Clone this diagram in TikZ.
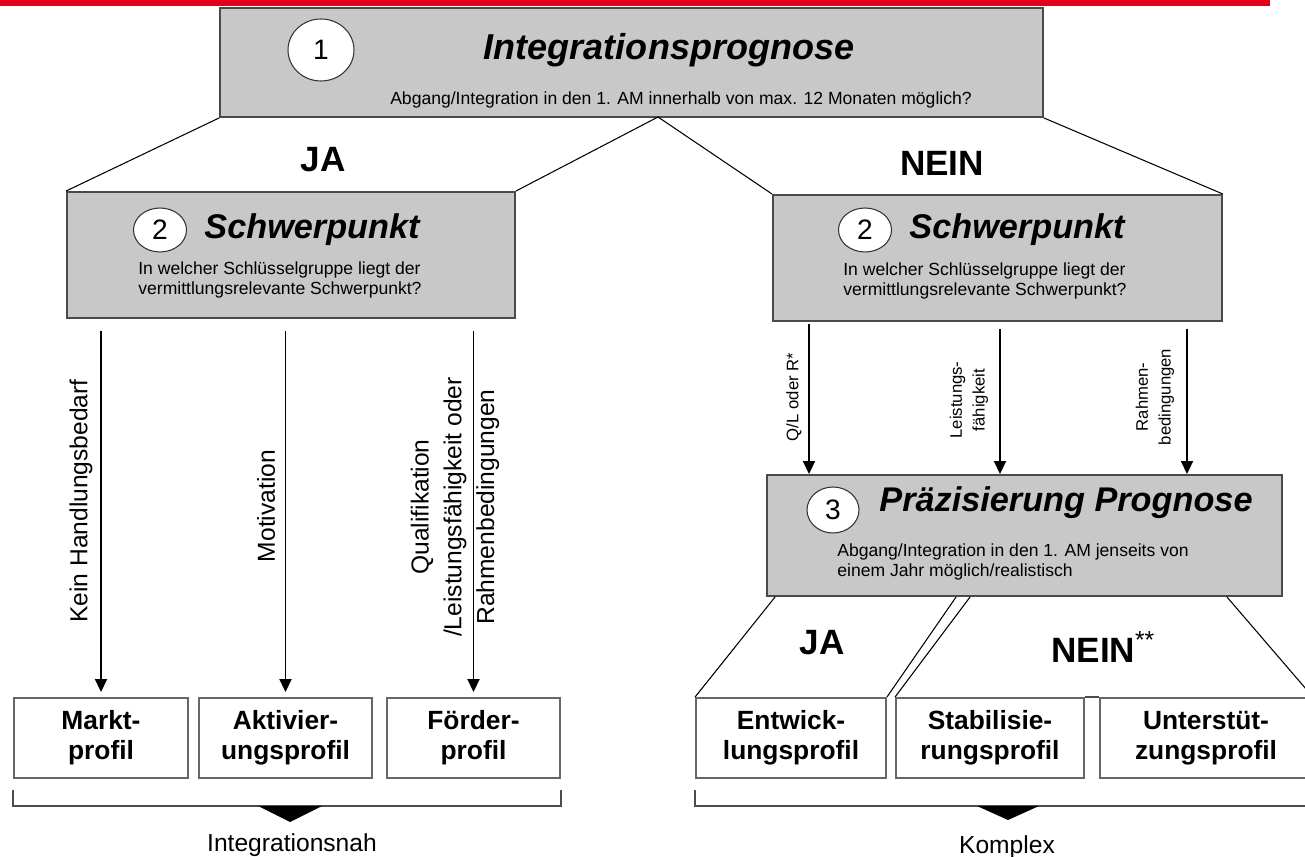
\documentclass[tikz,border=0pt]{standalone}
\usepackage{fontspec}
\setmainfont{Liberation Sans}
\usetikzlibrary{arrows.meta,shapes.geometric}
\definecolor{balkenrot}{HTML}{E2001A}
\definecolor{kastengrau}{HTML}{C8C8C8}
\definecolor{randgrau}{HTML}{4A4A4A}

\begin{document}
\begin{tikzpicture}[x=0.02cm,y=-0.02cm,
		grauKasten/.style={draw=randgrau,line width=1.1pt,fill=kastengrau,inner sep=0pt},
		profilKasten/.style={draw=black!60,line width=1.1pt,fill=white,minimum height=1.6cm,align=center,inner sep=0pt,font=\fontsize{15}{17}\selectfont\bfseries},
		nummer/.style={ellipse,draw=black!80,fill=white,line width=0.6pt,inner sep=0pt,font=\fontsize{16}{16}\selectfont},
		titel/.style={font=\fontsize{19.5}{22}\selectfont\bfseries\itshape},
		frage/.style={align=left,inner sep=0pt,font=\fontsize{10}{11.6}\selectfont},
		jn/.style={font=\fontsize{20}{22}\selectfont\bfseries},
		pfeil/.style={-{Triangle[length=2.6mm,width=2.4mm]},line width=1.1pt},
		kante/.style={line width=0.6pt},
		klammer/.style={draw=black!70,line width=1pt},
		seitlich/.style={rotate=90,align=center,inner sep=0pt}]
	\useasboundingbox (0,0) rectangle (1305,857);
	\fill[balkenrot] (0,0) rectangle (1270,6);
	
	\node[grauKasten,minimum width=16.46cm,minimum height=2.18cm] (prog) at (631.5,62.5) {};
	\node[nummer,minimum width=1.32cm,minimum height=1.24cm] (n1) at (321,50) {1};
	\node[titel,font=\fontsize{20.5}{22}\selectfont\bfseries\itshape] (t1) at (669,50) {Integrationsprognose};
	\node[font=\fontsize{10}{12}\selectfont] (f1) at (681,100) {Abgang/Integration in den 1. AM innerhalb von max. 12 Monaten möglich?};
	
	\node[grauKasten,minimum width=8.96cm,minimum height=2.52cm] (spL) at (291,255) {};
	\node[nummer,minimum width=1.06cm,minimum height=0.88cm] (n2l) at (160,230) {2};
	\node[titel] (t2l) at (312,230) {Schwerpunkt};
	\node[frage,anchor=west] (f2l) at (138,280) {In welcher Schlüsselgruppe liegt der\\vermittlungsrelevante Schwerpunkt?};
	
	\node[grauKasten,minimum width=8.98cm,minimum height=2.52cm] (spR) at (997.5,258) {};
	\node[nummer,minimum width=1.06cm,minimum height=0.88cm] (n2r) at (865,230) {2};
	\node[titel] (t2r) at (1017,230) {Schwerpunkt};
	\node[frage,anchor=west] (f2r) at (843,281) {In welcher Schlüsselgruppe liegt der\\vermittlungsrelevante Schwerpunkt?};
	
	\coordinate (spitze) at (658,117);
	\draw[kante] (prog.south west) -- (spL.north west);
	\draw[kante] (spitze) -- (spL.north east);
	\draw[kante] (spitze) -- (spR.north west);
	\draw[kante] (prog.south east) -- (spR.north east);
	\node[jn] (ja1) at (323,160) {JA};
	\node[jn] (nein1) at (942,163) {NEIN};
	
	\node[profilKasten,minimum width=3.48cm] (markt) at (101,738) {Markt-\\profil};
	\node[profilKasten,minimum width=3.46cm] (aktiv) at (285.5,738) {Aktivier-\\ungsprofil};
	\node[profilKasten,minimum width=3.46cm] (foerder) at (473.5,738) {Förder-\\profil};
	
	\draw[pfeil,shorten <=0.24cm,shorten >=0.1cm] (spL.south -| markt.north) -- (markt.north);
	\draw[pfeil,shorten <=0.24cm,shorten >=0.1cm] (spL.south -| aktiv.north) -- (aktiv.north);
	\draw[pfeil,shorten <=0.24cm,shorten >=0.1cm] (spL.south -| foerder.north) -- (foerder.north);
	\node[seitlich,font=\fontsize{14}{16}\selectfont] (lkein) at (81,501) {Kein Handlungsbedarf};
	\node[seitlich,font=\fontsize{14}{16}\selectfont] (lmot) at (266,506) {Motivation};
	\node[seitlich,font=\fontsize{14}{18.6}\selectfont] (lqual) at (455,507) {Qualifikation\\/Leistungsfähigkeit oder\\Rahmenbedingungen};
	
	\node[grauKasten,minimum width=10.3cm,minimum height=2.42cm] (praez) at (1024.5,535.5) {};
	\node[nummer,minimum width=1.04cm,minimum height=0.92cm] (n3) at (833,510) {3};
	\node[titel] (t3) at (1066,503) {Präzisierung Prognose};
	\node[frage,anchor=west] (f3) at (837,562) {Abgang/Integration in den 1. AM jenseits von\\einem Jahr möglich/realistisch};
	
	\draw[pfeil,shorten <=0.04cm] (spR.south -| 809,0) -- (praez.north -| 809,0);
	\draw[pfeil,shorten <=0.14cm] (spR.south -| 1000,0) -- (praez.north -| 1000,0);
	\draw[pfeil,shorten <=0.14cm] (spR.south -| 1187,0) -- (praez.north -| 1187,0);
	\node[seitlich,font=\fontsize{9.5}{13}\selectfont] (lql) at (794,397) {Q/L oder R*};
	\node[seitlich,font=\fontsize{9.5}{13}\selectfont] (lleist) at (969,400) {Leistungs-\\fähigkeit};
	\node[seitlich,font=\fontsize{9.5}{13}\selectfont] (lrahm) at (1155,397) {Rahmen-\\bedingungen};
	
	\node[profilKasten,minimum width=3.8cm] (entw) at (791,738) {Entwick-\\lungsprofil};
	\node[profilKasten,minimum width=3.76cm] (stab) at (990,738) {Stabilisie-\\rungsprofil};
	\node[profilKasten,minimum width=4.24cm] (unter) at (1206,738) {Unterstüt-\\zungsprofil};
	
	\draw[kante] (praez.south west) ++(9,0) -- (entw.north west);
	\draw[kante] (praez.south west) ++(190,0) -- (entw.north east);
	\draw[kante] (praez.south west) ++(204,0) -- (stab.north west);
	\draw[kante] (praez.south east) ++(-56,0) -- (unter.north east);
	\draw[line width=1.5pt,black!70] (stab.north east) -- (unter.north west);
	\node[jn] (ja2) at (822,643) {JA};
	\node[jn,anchor=west] (nein2) at (1045,647) {NEIN\textsuperscript{\normalfont**}};
	
	\draw[klammer] (markt.south west |- 0,790) -- (markt.south west |- 0,806) -- (foerder.south east |- 0,806) -- (foerder.south east |- 0,790);
	\fill (258,806) -- (322,806) -- (290,822) -- cycle;
	\node[font=\fontsize{14}{16}\selectfont] (nah) at (292,845) {Integrationsnah};
	
	\draw[klammer] (entw.south west |- 0,790) -- (entw.south west |- 0,806) -- (1320,806);
	\fill (977,806) -- (1039,806) -- (1008,820) -- cycle;
	\node[font=\fontsize{14}{16}\selectfont] (komplex) at (1007,847) {Komplex};
\end{tikzpicture}
\end{document}
